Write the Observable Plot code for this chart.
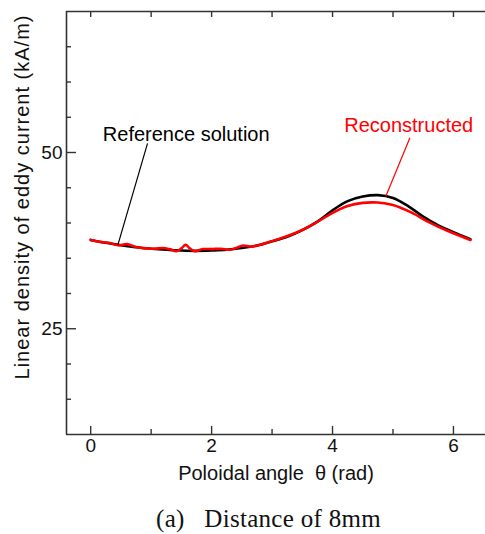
<!DOCTYPE html>
<html>
<head>
<meta charset="utf-8">
<script src="https://cdn.jsdelivr.net/npm/d3@7"></script>
<script src="https://cdn.jsdelivr.net/npm/@observablehq/plot@0.6"></script>
<style>
  body { margin: 0; background: #fff; }
  #chart svg { display: block; }
  .ylab text { letter-spacing: 1px; }
  #caption { font-family: "Liberation Serif", "Times New Roman", serif; font-size: 25px; letter-spacing: 0.3px; color: #111;
             text-align: center; white-space: pre; width: 485px; padding-left: 52px; box-sizing: border-box;
             margin-top: 13px; line-height: 28px; }
</style>
</head>
<body>
<div id="chart"></div>
<div id="caption">(a)   Distance of 8mm</div>
<script>
// Reference solution (black)
const refTheta = [0, 0.25, 0.5, 0.75, 1.0, 1.25, 1.5, 1.75, 2.0, 2.25, 2.5, 2.75, 3.0, 3.25, 3.5, 3.75, 4.0, 4.25, 4.5, 4.75, 5.0, 5.25, 5.5, 5.75, 6.0, 6.28];
const refVals  = [37.6, 37.2, 36.85, 36.55, 36.35, 36.2, 36.1, 36.05, 36.1, 36.2, 36.45, 36.8, 37.4, 38.05, 39.0, 40.2, 41.8, 43.1, 43.75, 43.95, 43.55, 42.4, 40.9, 39.65, 38.7, 37.7];
// Reconstructed (red)
const recTheta = [0, 0.1, 0.2, 0.3, 0.45, 0.6, 0.75, 0.9, 1.05, 1.2, 1.3, 1.42, 1.5, 1.57, 1.64, 1.72, 1.85, 2.0, 2.15, 2.3, 2.42, 2.52, 2.65, 2.8, 2.95, 3.1, 3.3, 3.5, 3.7, 3.95, 4.25, 4.5, 4.75, 5.0, 5.3, 5.6, 5.9, 6.28];
const recVals  = [37.6, 37.4, 37.25, 37.2, 36.85, 37.0, 36.6, 36.4, 36.35, 36.45, 36.3, 36.0, 36.4, 36.9, 36.4, 36.0, 36.3, 36.3, 36.35, 36.2, 36.5, 36.8, 36.65, 36.9, 37.3, 37.7, 38.3, 39.0, 39.9, 41.2, 42.4, 42.85, 42.9, 42.55, 41.5, 40.1, 38.9, 37.6];

// axes
const xDomain = [-0.4, 6.53];
const yDomain = [10, 70];
const xMajor = [0, 2, 4, 6];
const xMinor = [1, 3, 5];
const xAll = [0, 1, 2, 3, 4, 5, 6];
const yMajor = [25, 50];
const yMinor = [15, 20, 30, 35, 40, 45, 55, 60, 65];
const xLabel = "Poloidal angle  θ (rad)";
const yLabel = "Linear density of eddy current (kA/m)";

// annotations
const annoText = ["Reference solution", "Reconstructed"];
const annoX = [1.58, 5.26];
const annoY = [52.6, 53.8];
const annoColor = ["black", "red"];
const leaderX1 = [0.94, 5.28];
const leaderY1 = [51.3, 52.1];
const leaderX2 = [0.45, 4.88];
const leaderY2 = [36.9, 43.75];

const W = 485, H = 492;
const mT = 11, mB = H - 434, mL = 66, mR = 0;
const pw = W - mL - mR, ph = H - mT - mB;

const ref = refTheta.map((t, i) => ({t, v: refVals[i]}));
const rec = recTheta.map((t, i) => ({t, v: recVals[i]}));
const annos = annoText.map((s, i) => ({s, x: annoX[i], y: annoY[i], c: annoColor[i],
  x1: leaderX1[i], y1: leaderY1[i], x2: leaderX2[i], y2: leaderY2[i]}));

const frameStroke = "#333";
const chart = Plot.plot({
  width: W, height: H,
  marginTop: mT, marginBottom: mB, marginLeft: mL, marginRight: mR,
  style: {fontFamily: "'Liberation Sans', Arial, sans-serif", fontSize: "19px", color: "#111", background: "white"},
  x: {domain: xDomain},
  y: {domain: yDomain},
  marks: [
    Plot.axisX(xMajor, {anchor: "bottom", tickSize: 0, tickPadding: 4, label: null, fontSize: 19}),
    Plot.axisY(yMajor, {anchor: "left", tickSize: 0, tickPadding: 4, label: null, fontSize: 19}),
    Plot.ruleX([xDomain[0]], {stroke: frameStroke, strokeWidth: 1.6}),
    Plot.ruleY(yDomain, {stroke: frameStroke, strokeWidth: 1.6}),
    Plot.tickX(xMajor, {x: d => d, insetTop: ph - 8, stroke: frameStroke, strokeWidth: 1.4}),
    Plot.tickX(xMinor, {x: d => d, insetTop: ph - 5, stroke: frameStroke, strokeWidth: 1.4}),
    Plot.tickX(xAll, {x: d => d, insetBottom: ph - 6, stroke: frameStroke, strokeWidth: 1.4}),
    Plot.tickY(yMajor, {y: d => d, insetRight: pw - 10, stroke: frameStroke, strokeWidth: 1.4}),
    Plot.tickY(yMinor, {y: d => d, insetRight: pw - 5, stroke: frameStroke, strokeWidth: 1.4}),
    Plot.line(ref, {x: "t", y: "v", stroke: "black", strokeWidth: 2.6, curve: "catmull-rom"}),
    Plot.line(rec, {x: "t", y: "v", stroke: "red", strokeWidth: 2.6, curve: "catmull-rom"}),
    Plot.link(annos, {x1: "x1", y1: "y1", x2: "x2", y2: "y2", stroke: "c", strokeWidth: 1.2}),
    Plot.text(annos, {x: "x", y: "y", text: "s", fill: "c", fontSize: 20}),
    Plot.text([xLabel], {frameAnchor: "bottom", textAnchor: "middle", dy: 45, fontSize: 20, fill: "#111"}),
    Plot.text([yLabel], {frameAnchor: "left", textAnchor: "middle", rotate: -90, dx: -44, dy: -26, fontSize: 20, fill: "#111",
      className: "ylab"})
  ]
});
document.getElementById("chart").append(chart);
</script>
</body>
</html>
